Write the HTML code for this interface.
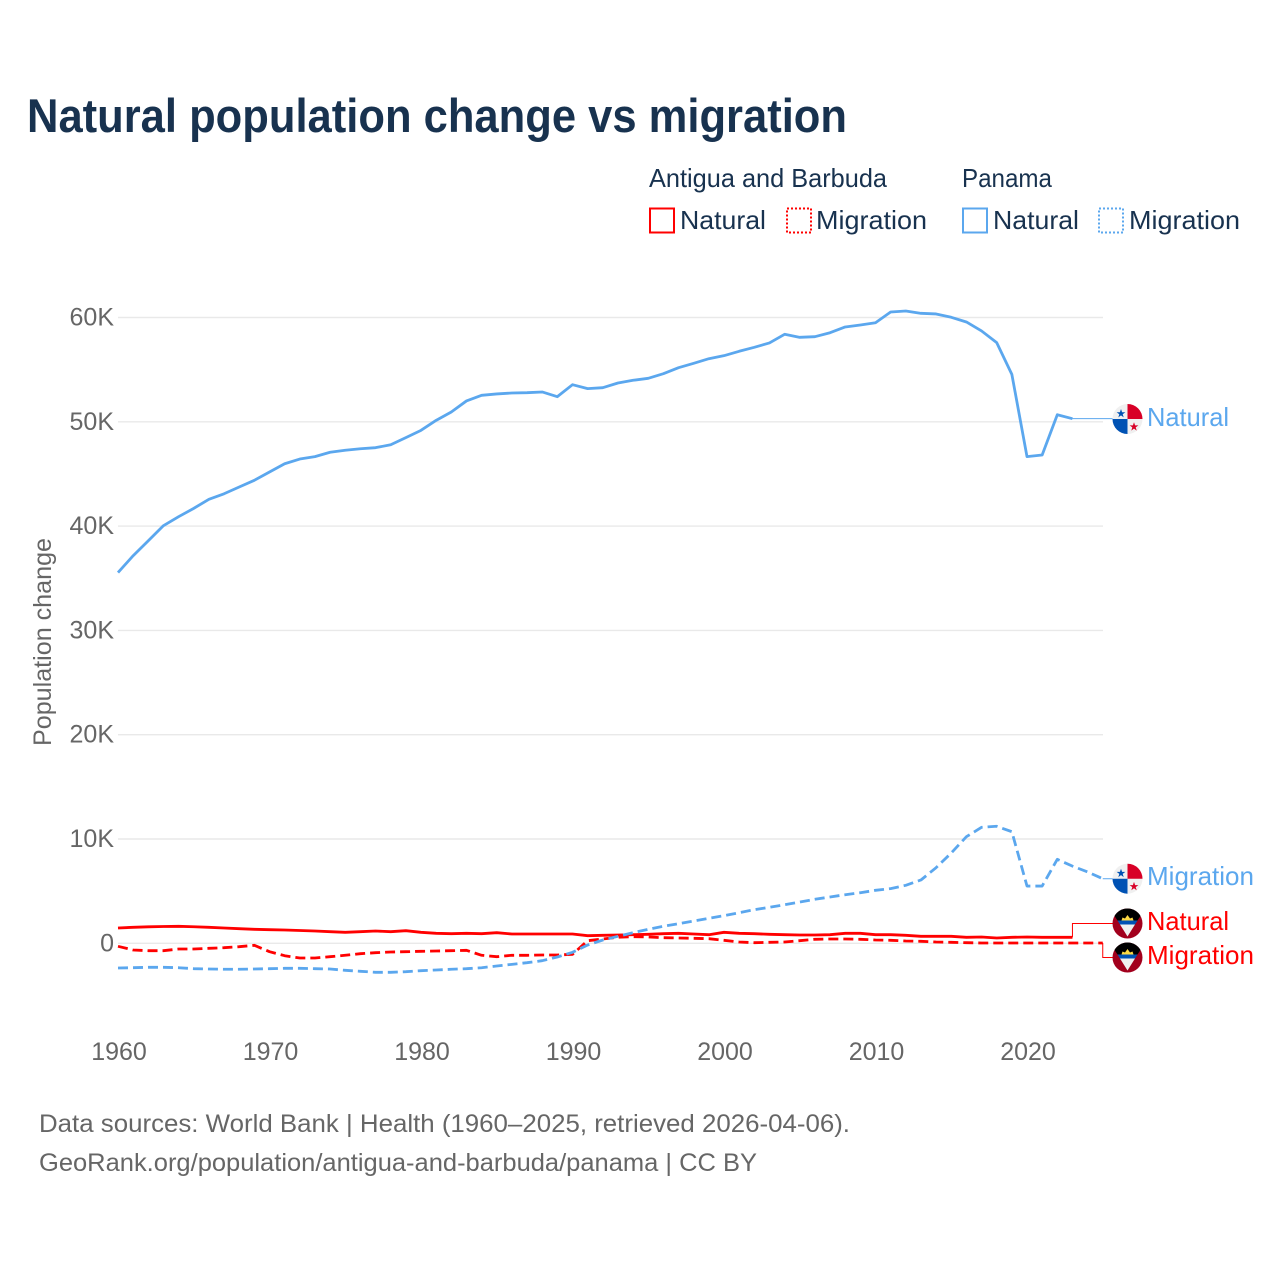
<!DOCTYPE html>
<html lang="en">
<head>
<meta charset="utf-8">
<title>Natural population change vs migration</title>
<style>
html,body{margin:0;padding:0;background:#fff;width:1280px;height:1280px;overflow:hidden}
svg{display:block;font-family:"Liberation Sans",sans-serif}
</style>
</head>
<body>
<svg id="chart" xmlns="http://www.w3.org/2000/svg" width="1280" height="1280" viewBox="0 0 1280 1280">
  <rect width="1280" height="1280" fill="#fff"/>
  <text x="27" y="132" font-size="47" font-weight="700" fill="#18324f" textLength="820" lengthAdjust="spacingAndGlyphs">Natural population change vs migration</text>

  <g font-size="26" fill="#18324f">
    <text x="649" y="187" textLength="238" lengthAdjust="spacingAndGlyphs">Antigua and Barbuda</text>
    <text x="962" y="187" textLength="90" lengthAdjust="spacingAndGlyphs">Panama</text>
    <rect x="650" y="208.5" width="24" height="24" fill="#fff" stroke="#ff0000" stroke-width="2"/>
    <text x="680" y="229" textLength="86" lengthAdjust="spacingAndGlyphs">Natural</text>
    <rect x="787" y="208.5" width="24" height="24" fill="#fff" stroke="#ff0000" stroke-width="2" stroke-dasharray="2 2"/>
    <text x="816" y="229" textLength="111" lengthAdjust="spacingAndGlyphs">Migration</text>
    <rect x="963" y="208.5" width="24" height="24" fill="#fff" stroke="#5ba7ee" stroke-width="2"/>
    <text x="993" y="229" textLength="86" lengthAdjust="spacingAndGlyphs">Natural</text>
    <rect x="1099" y="208.5" width="24" height="24" fill="#fff" stroke="#5ba7ee" stroke-width="2" stroke-dasharray="2 2"/>
    <text x="1129" y="229" textLength="111" lengthAdjust="spacingAndGlyphs">Migration</text>
  </g>

  <text transform="translate(51 746) rotate(-90)" font-size="25" fill="#666" textLength="208" lengthAdjust="spacingAndGlyphs">Population change</text>

  <g id="grid"></g>
  <g id="yaxis" font-size="25" fill="#666" text-anchor="end"></g>
  <g id="xaxis" font-size="25" fill="#666" text-anchor="middle"></g>
  <g id="leaders" fill="none" stroke-width="1"></g>
  <g id="series" fill="none" stroke-width="2.8" stroke-linejoin="round"></g>

  <g transform="translate(1127.5 419)">
    <circle r="15" fill="#f0f0f0"/>
    <path d="M0 -15A15 15 0 0 1 15 0H0Z" fill="#d80027"/>
    <path d="M-15 0A15 15 0 0 0 0 15V0Z" fill="#0052b4"/>
    <path d="M-6.5 -10l1.1 3.2h3.3l-2.7 2 1 3.2-2.7-2-2.7 2 1-3.2-2.7-2h3.3z" fill="#0052b4"/>
    <path d="M6.5 3.2l1.1 3.2h3.3l-2.7 2 1 3.2-2.7-2-2.7 2 1-3.2-2.7-2h3.3z" fill="#d80027"/>
  </g>
  <g transform="translate(1127.5 878.7)">
    <circle r="15" fill="#f0f0f0"/>
    <path d="M0 -15A15 15 0 0 1 15 0H0Z" fill="#d80027"/>
    <path d="M-15 0A15 15 0 0 0 0 15V0Z" fill="#0052b4"/>
    <path d="M-6.5 -10l1.1 3.2h3.3l-2.7 2 1 3.2-2.7-2-2.7 2 1-3.2-2.7-2h3.3z" fill="#0052b4"/>
    <path d="M6.5 3.2l1.1 3.2h3.3l-2.7 2 1 3.2-2.7-2-2.7 2 1-3.2-2.7-2h3.3z" fill="#d80027"/>
  </g>
  <g transform="translate(1127.5 923.5)">
    <circle r="15" fill="#a2001d"/>
    <path d="M-13 -7.5A15 15 0 0 1 13 -7.5L10 -3H-10Z" fill="#000"/>
    <path d="M-7.5 1H7.5L0 13Z" fill="#f0f0f0"/>
    <path d="M-10 -3H10L7.5 1H-7.5Z" fill="#0052b4"/>
    <path d="M-6 -3L-5 -6L-2.5 -5L0 -8.5L2.5 -5L5 -6L6 -3Z" fill="#ffda44"/>
  </g>
  <g transform="translate(1127.5 957.5)">
    <circle r="15" fill="#a2001d"/>
    <path d="M-13 -7.5A15 15 0 0 1 13 -7.5L10 -3H-10Z" fill="#000"/>
    <path d="M-7.5 1H7.5L0 13Z" fill="#f0f0f0"/>
    <path d="M-10 -3H10L7.5 1H-7.5Z" fill="#0052b4"/>
    <path d="M-6 -3L-5 -6L-2.5 -5L0 -8.5L2.5 -5L5 -6L6 -3Z" fill="#ffda44"/>
  </g>

  <g font-size="26">
    <text x="1147" y="426" fill="#5ba7ee" textLength="82" lengthAdjust="spacingAndGlyphs">Natural</text>
    <text x="1147" y="885" fill="#5ba7ee" textLength="107" lengthAdjust="spacingAndGlyphs">Migration</text>
    <text x="1147" y="930" fill="#ff0000" textLength="82" lengthAdjust="spacingAndGlyphs">Natural</text>
    <text x="1147" y="964" fill="#ff0000" textLength="107" lengthAdjust="spacingAndGlyphs">Migration</text>
  </g>

  <g font-size="25" fill="#666">
    <text x="39" y="1132" textLength="811" lengthAdjust="spacingAndGlyphs">Data sources: World Bank | Health (1960–2025, retrieved 2026-04-06).</text>
    <text x="39" y="1171" textLength="718" lengthAdjust="spacingAndGlyphs">GeoRank.org/population/antigua-and-barbuda/panama | CC BY</text>
  </g>
</svg>
<script>
const startYear = 1960;
const yTickValues = [0, 10000, 20000, 30000, 40000, 50000, 60000];
const yTickLabels = ["0", "10K", "20K", "30K", "40K", "50K", "60K"];
const xTickValues = [1960, 1970, 1980, 1990, 2000, 2010, 2020];
const xTickLabels = ["1960", "1970", "1980", "1990", "2000", "2010", "2020"];

const panamaNatural = [35550,37160,38600,40040,40900,41700,42570,43100,43750,44390,45190,45980,46430,46660,47080,47270,47420,47520,47800,48480,49180,50140,50940,52000,52540,52670,52760,52790,52860,52410,53560,53180,53270,53720,53980,54170,54610,55190,55610,56050,56340,56760,57140,57560,58390,58100,58160,58540,59090,59280,59500,60530,60620,60400,60340,60020,59570,58710,57590,54550,46660,46820,50680,50300];
const panamaMigration = [-2368,-2340,-2300,-2300,-2340,-2435,-2464,-2490,-2490,-2464,-2435,-2400,-2400,-2435,-2464,-2590,-2685,-2780,-2780,-2720,-2625,-2560,-2490,-2435,-2340,-2176,-2016,-1860,-1668,-1314,-863,-163,316,670,1016,1342,1630,1880,2138,2397,2646,2934,3221,3452,3700,3960,4219,4440,4660,4851,5081,5245,5560,6070,7250,8660,10220,11120,11220,10700,5490,5490,8050,7400,6840,6190];
const antiguaNatural = [1467,1534,1580,1610,1630,1590,1534,1467,1400,1342,1304,1275,1227,1179,1112,1054,1112,1179,1112,1208,1054,958,920,958,920,1016,892,892,892,892,892,729,767,796,825,863,920,958,892,825,1054,958,920,863,825,796,796,825,958,958,825,825,767,671,671,671,575,604,508,575,604,575,575,575];
const antiguaMigration = [-288,-642,-709,-709,-546,-546,-479,-422,-326,-192,-805,-1189,-1409,-1409,-1285,-1150,-997,-901,-834,-805,-767,-738,-709,-671,-1150,-1285,-1150,-1150,-1122,-1122,-1055,249,412,575,633,604,537,508,479,441,288,125,58,96,125,249,384,412,412,384,316,288,220,192,125,96,58,29,29,29,29,29,29,29,29,29];

const leaderAntiguaNaturalY = 923.5;
const leaderAntiguaMigrationY = 957.5;
const leaderPanamaMigrationEndX = 1113;

const NS = "http://www.w3.org/2000/svg";
function xScale(year) { return 118 + (year - 1960) * 15.15; }
function yScale(v) { return 943.3 - v * 0.01043; }
function mk(tag, parent, attrs) {
  const el = document.createElementNS(NS, tag);
  for (const k in attrs) el.setAttribute(k, attrs[k]);
  document.getElementById(parent).appendChild(el);
  return el;
}
function linePath(values) {
  return values.map((v, i) => (i ? "L" : "M") + xScale(startYear + i).toFixed(2) + " " + yScale(v).toFixed(2)).join("");
}

yTickValues.forEach((v, i) => {
  const line = mk("line", "grid", { x1: 118, x2: 1103, y1: yScale(v), y2: yScale(v), stroke: "#e9e9e9", "stroke-width": 1.4 });
  
  
  const t = mk("text", "yaxis", { x: 114, y: yScale(v) + 8 });
  t.textContent = yTickLabels[i];
  
  
});
xTickValues.forEach((y, i) => {
  const t = mk("text", "xaxis", { x: xScale(y) + 1, y: 1060 });
  t.textContent = xTickLabels[i];
  
  
});

function endPoint(values) {
  const i = values.length - 1;
  return [xScale(startYear + i), yScale(values[i])];
}
function leaderTo(values, targetY, color) {
  const p = endPoint(values);
  return mk("path", "leaders", { d: "M" + p[0] + " " + p[1] + "V" + targetY + "H" + leaderPanamaMigrationEndX, stroke: color });
}
const l1 = leaderTo(antiguaNatural, leaderAntiguaNaturalY, "#ff0000");


const l2 = leaderTo(antiguaMigration, leaderAntiguaMigrationY, "#ff0000");


const l3 = leaderTo(panamaNatural, yScale(panamaNatural[panamaNatural.length - 1]), "#5ba7ee");


const l4 = leaderTo(panamaMigration, yScale(panamaMigration[panamaMigration.length - 1]), "#5ba7ee");



const s1 = mk("path", "series", { d: linePath(antiguaNatural), stroke: "#ff0000" });


const s2 = mk("path", "series", { d: linePath(antiguaMigration), stroke: "#ff0000", "stroke-dasharray": "10 5" });


const s3 = mk("path", "series", { d: linePath(panamaNatural), stroke: "#5ba7ee" });


const s4 = mk("path", "series", { d: linePath(panamaMigration), stroke: "#5ba7ee", "stroke-dasharray": "10 5" });


</script>
</body>
</html>
